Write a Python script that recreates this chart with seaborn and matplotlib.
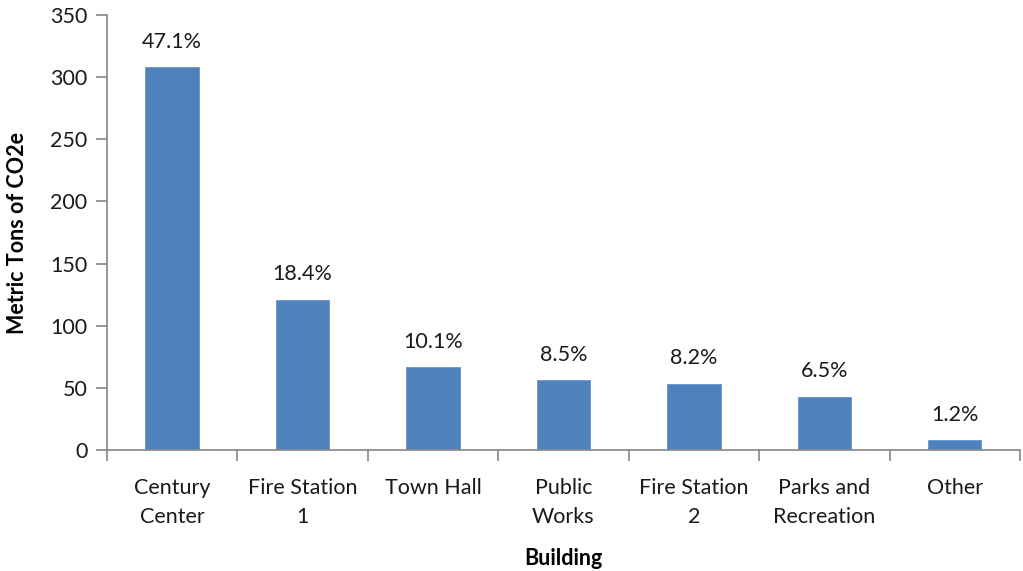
import matplotlib
matplotlib.use("Agg")
import matplotlib.pyplot as plt
import seaborn as sns
import pandas as pd
from matplotlib.ticker import FixedLocator, MultipleLocator

# Building emissions (metric tons CO2e) and share of total
buildings = ["Century\nCenter", "Fire Station\n1", "Town Hall", "Public\nWorks",
             "Fire Station\n2", "Parks and\nRecreation", "Other"]
emissions = [308, 121, 66.5, 56.5, 53.5, 43, 8]
shares = ["47.1%", "18.4%", "10.1%", "8.5%", "8.2%", "6.5%", "1.2%"]

df = pd.DataFrame({"Building": buildings, "Emissions": emissions})

sns.set_theme(style="white")
plt.rcParams["font.family"] = ["Lato", "DejaVu Sans"]

FS = 15.5
fig = plt.figure(figsize=(10.23, 5.71), dpi=100)
ax = fig.add_axes([0.1046, 0.2119, 0.8924, 0.7618])

sns.barplot(data=df, x="Building", y="Emissions", color="#4F81BD",
            saturation=1, width=0.41, ax=ax, edgecolor="#6A93C8", linewidth=0.6)

for container in ax.containers:
    ax.bar_label(container, labels=shares, padding=11, fontsize=FS, color="#1a1a1a")

ax.set_ylim(0, 350)
ax.set_xlim(-0.5, len(buildings) - 0.5)
ax.yaxis.set_major_locator(MultipleLocator(50))

grey = "#868686"
for side in ["top", "right"]:
    ax.spines[side].set_visible(False)
for side in ["left", "bottom"]:
    ax.spines[side].set_color(grey)
    ax.spines[side].set_linewidth(1.2)

ax.tick_params(axis="y", which="major", direction="out", length=8, width=1.2,
               color=grey, labelsize=FS, labelcolor="#1a1a1a", left=True, pad=6)
ax.tick_params(axis="x", which="major", length=0, labelsize=FS,
               labelcolor="#1a1a1a", pad=20)
ax.xaxis.set_minor_locator(FixedLocator([i - 0.5 for i in range(len(buildings) + 1)]))
ax.tick_params(axis="x", which="minor", direction="out", length=8, width=1.2,
               color=grey, bottom=True)
for lbl in ax.get_xticklabels():
    lbl.set_linespacing(1.6)

ax.set_ylabel("Metric Tons of CO2e", fontsize=FS, fontweight="bold", color="black")
ax.yaxis.set_label_coords(-0.087, 0.5)
ax.set_xlabel("Building", fontsize=FS, fontweight="bold", color="black")
ax.xaxis.set_label_coords(0.5, -0.226)

fig.savefig("out.png", dpi=100)
